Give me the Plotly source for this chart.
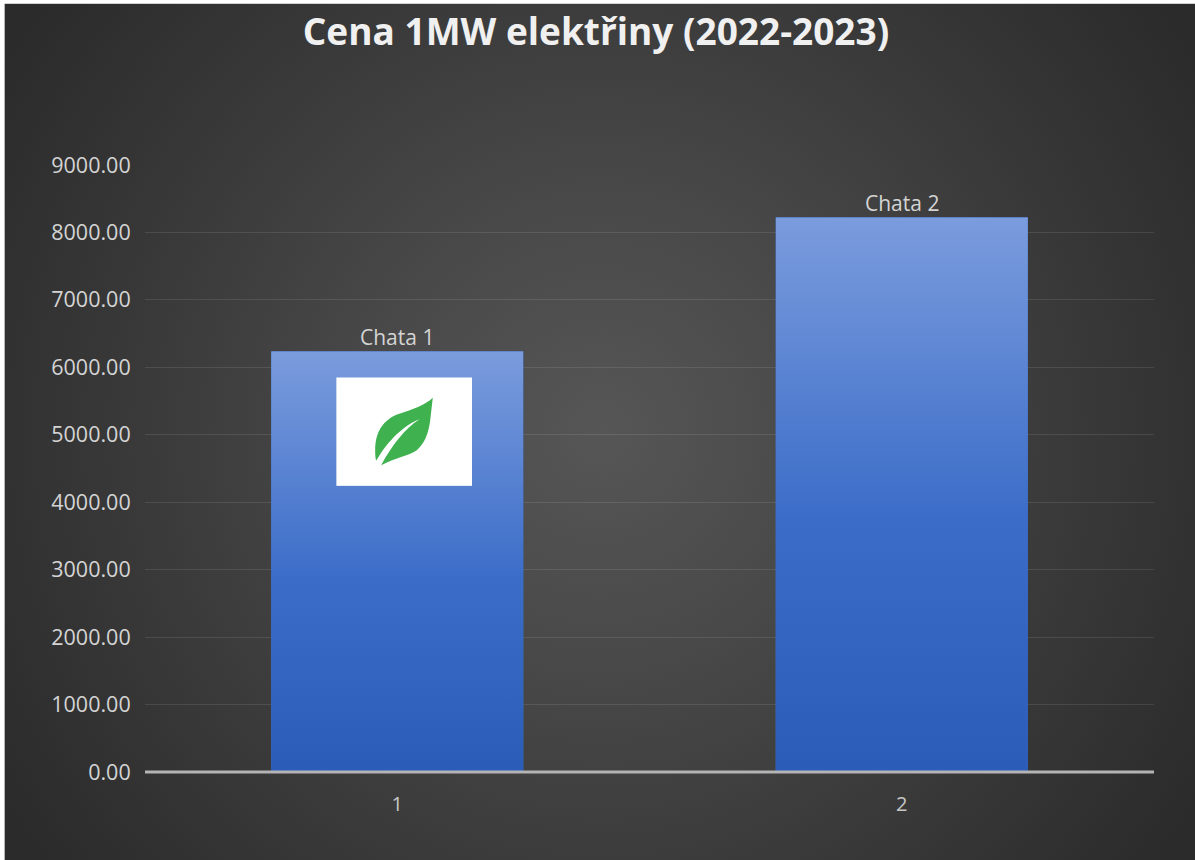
import base64
import plotly.graph_objects as go

title = "Cena 1MW elektřiny (2022-2023)"
positions = [1, 2]
values = [6240, 8226]
labels = ["Chata 1", "Chata 2"]
y_ticks = [0, 1000, 2000, 3000, 4000, 5000, 6000, 7000, 8000, 9000]

W, H = 1195, 860
L, R, T, B = 144.5, 40.5, 164.5, 87.5
BAR_W = 0.5
Y_MAX = 9001


def uri(svg):
    return "data:image/svg+xml;base64," + base64.b64encode(svg.encode("utf-8")).decode()


bg_svg = f'''<svg xmlns="http://www.w3.org/2000/svg" width="{W}" height="{H}" viewBox="0 0 {W} {H}">
<defs><radialGradient id="g" gradientUnits="userSpaceOnUse" cx="600" cy="430" r="760">
<stop offset="0" stop-color="#565656"/><stop offset="0.3" stop-color="#494949"/>
<stop offset="0.6" stop-color="#3a3a3a"/><stop offset="0.9" stop-color="#2c2c2c"/>
<stop offset="1" stop-color="#2a2a2a"/></radialGradient></defs>
<rect x="4" y="3" width="{W}" height="{H}" fill="url(#g)"/></svg>'''

bar_svg = '''<svg xmlns="http://www.w3.org/2000/svg" width="100" height="400" viewBox="0 0 100 400" preserveAspectRatio="none">
<defs><linearGradient id="b" x1="0" y1="0" x2="0" y2="1">
<stop offset="0" stop-color="#7b9cdd"/><stop offset="0.55" stop-color="#3a6cc8"/>
<stop offset="1" stop-color="#2b5cb8"/></linearGradient></defs>
<rect width="100" height="400" fill="url(#b)"/></svg>'''

leaf_svg = '''<svg xmlns="http://www.w3.org/2000/svg" width="136" height="109" viewBox="48 171 408 326">
<rect x="48" y="171" width="408" height="326" fill="#ffffff"/>
<path fill="#3fb24f" d="M338 232 C315 255 275 267 240 280 C200 292 165 325 165 390 C165 405 166 415 168 422
C195 375 240 320 298 297 C255 325 215 375 183 435 C225 412 265 408 290 390 C320 365 328 325 332 285 Z"/></svg>'''

plot_w, plot_h = W - L - R, H - T - B
images = [dict(source=uri(bg_svg), xref="paper", yref="paper", x=-L / plot_w, y=1 + T / plot_h,
               sizex=(W + 3) / plot_w, sizey=(H + 3) / plot_h, sizing="stretch",
               xanchor="left", yanchor="top", layer="below")]
for p, v in zip(positions, values):
    images.append(dict(source=uri(bar_svg), xref="x", yref="y", x=p - BAR_W / 2, y=v, sizex=BAR_W, sizey=v,
                       sizing="stretch", xanchor="left", yanchor="top", layer="above"))
images.append(dict(source=uri(leaf_svg), xref="x", yref="y", x=0.879, y=5855, sizex=0.2693, sizey=1614,
                   sizing="stretch", xanchor="left", yanchor="top", layer="above"))

fig = go.Figure(go.Bar(
    x=positions, y=values, width=BAR_W, cliponaxis=False,
    marker=dict(color="#3a6cc8", line=dict(width=0)),
    hoverinfo="x+y", showlegend=False,
))

annotations = [dict(x=p, y=v, xref="x", yref="y", text=t, showarrow=False, xanchor="center", yanchor="middle",
                    yshift=14, font=dict(family="Open Sans", size=21, color="#d4d4d4"))
               for p, v, t in zip(positions, values, labels)]

fig.update_layout(
    width=W, height=H, autosize=False,
    margin=dict(l=L, r=R, t=T, b=B, pad=0),
    paper_bgcolor="#ffffff", plot_bgcolor="rgba(0,0,0,0)",
    images=images,
    annotations=annotations,
    title=dict(text=f"<b>{title}</b>", x=596 / W, xanchor="center", y=1 - 32 / H, yanchor="middle",
               font=dict(family="Open Sans", size=37, color="#f0f0f0")),
    xaxis=dict(range=[0.5, 2.5], tickmode="array", tickvals=positions, ticktext=[str(p) for p in positions],
               showgrid=False, zeroline=False, showline=False, ticks="outside", ticklen=14,
               tickcolor="rgba(0,0,0,0)", tickfont=dict(family="Open Sans", size=20, color="#c8c8c8")),
    yaxis=dict(range=[0, Y_MAX], tickmode="array", tickvals=y_ticks, tickformat=".2f",
               showgrid=True, gridcolor="rgba(255,255,255,0.1)", gridwidth=1, zeroline=False, showline=False,
               ticks="outside", ticklen=9, tickcolor="rgba(0,0,0,0)",
               tickfont=dict(family="Open Sans", size=21.5, color="#d4d4d4")),
    shapes=[dict(type="line", xref="paper", yref="paper", x0=0, x1=1, y0=0, y1=0,
                 line=dict(color="#b4b4b4", width=3), layer="above")],
)

fig.write_html("out.html", config=dict(displayModeBar=False),
               post_script="document.body.style.margin='0';document.body.style.overflow='hidden';")
